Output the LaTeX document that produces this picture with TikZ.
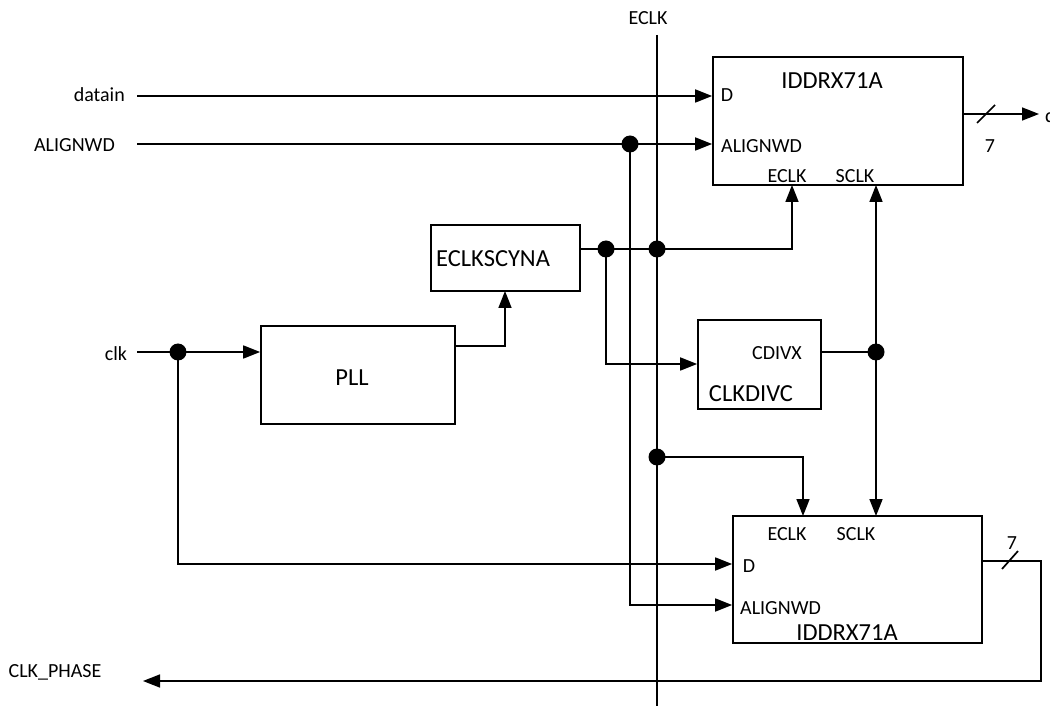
\documentclass[tikz,border=0pt]{standalone}
\usepackage{fontspec}
\setmainfont{Carlito}
\usetikzlibrary{arrows.meta}
\tikzset{
  wire/.style={line width=1.7pt},
  arr/.style={wire,-{Triangle[length=17pt,width=13pt]}},
  darr/.style={wire,{Triangle[length=17pt,width=13pt]}-{Triangle[length=17pt,width=13pt]}},
  blk/.style={draw,line width=1.7pt,minimum width=#1,inner sep=0},
  lab/.style={font=\fontsize{20}{22}\selectfont,inner sep=0},
  big/.style={font=\fontsize{24.5}{27}\selectfont,inner sep=0},
  dot/.style={circle,fill,inner sep=0,minimum size=17pt}
}
\begin{document}
\begin{tikzpicture}[x=1pt,y=-1pt]
\useasboundingbox (0,0) rectangle (1050,711);
% boxes
\node[blk=250pt,minimum height=128pt] (T) at (838,121) {};
\node[blk=249pt,minimum height=127pt] (B) at (857.5,579.5) {};
\node[blk=149pt,minimum height=66pt] (E) at (505.5,258) {};
\node[blk=123pt,minimum height=89pt] (C) at (759.5,364.5) {};
\node[blk=194pt,minimum height=98pt] (P) at (358,375) {};
% box texts
\node[big] (Tt) at (832,81) {IDDRX71A};
\node[lab] (TD) at (727,95) {D};
\node[lab,anchor=west] (TA) at (721,146) {ALIGNWD};
\node[lab] (TE) at (787,176) {ECLK};
\node[lab] (TS) at (855,176) {SCLK};
\node[big] (Bt) at (847,633) {IDDRX71A};
\node[lab] (BD) at (749,566) {D};
\node[lab,anchor=west] (BA) at (740,608) {ALIGNWD};
\node[lab] (BE) at (787,534) {ECLK};
\node[lab] (BS) at (856,534) {SCLK};
\node[big,anchor=west] (Et) at (436,259) {ECLKSCYNA};
\node[lab] (Cx) at (777,353) {CDIVX};
\node[big] (Ct) at (751,394) {CLKDIVC};
\node[big] (Pt) at (352,378) {PLL};
% outside labels
\node[lab,anchor=east] (ldatain) at (125,95) {datain};
\node[lab,anchor=east] (lalign) at (115,145) {ALIGNWD};
\node[lab] (lclk) at (116,354) {clk};
\node[lab] (lphase) at (55,672) {CLK\_PHASE};
\node[lab] (leclk) at (648,18) {ECLK};
\node[lab] (l7a) at (990,146) {7};
\node[lab] (l7b) at (1012,543) {7};
\node[lab,anchor=west] (lout) at (1045,116) {dataout};
% named points
\coordinate (sDatain) at (137,96);
\coordinate (sAlign) at (137,144);
\coordinate (sClk) at (137,352);
\coordinate (eTop) at (657,35);
\coordinate (eBot) at (657,706);
\coordinate (tOut) at (1039,114);
\coordinate (bCorner) at (1041,561);
\coordinate (phaseEnd) at (143,681);
% dots
\node[dot] (dA) at (630,144) {};
\node[dot] (dClk) at (178,352) {};
\node[dot] (dE1) at (606,249) {};
\node[dot] (dE2) at (657,249) {};
\node[dot] (dE3) at (657,457) {};
\node[dot] (dS) at (876,352) {};
% ECLK line
\draw[wire] (eTop) -- (eBot);
% inputs
\draw[arr] (sDatain) -- (sDatain -| T.west);
\draw[arr] (sAlign) -- (sAlign -| T.west);
\draw[arr] (dA.center) -- (dA.center |- 0,605) -- (B.west |- 0,605);
\draw[arr] (sClk) -- (sClk -| P.west);
\draw[arr] (dClk.center) -- (178,564) -- (B.west |- 0,564);
% PLL -> ECLKSCYNA
\draw[arr] (P.east |- 0,346) -- (505,346) -- (505,291);
% ECLKSCYNA -> top ECLK
\draw[arr] (E.east |- 0,249) -- (792,249) -- (792,185);
\draw[arr] (dE1.center) -- (606,364) -- (C.west |- 0,364);
% CDIVX -> SCLK
\draw[wire] (C.east |- 0,352) -- (dS.center);
\draw[darr] (876,185) -- (876,516);
% ECLK -> bottom ECLK
\draw[arr] (dE3.center) -- (803,457) -- (803,516);
% outputs
\draw[arr] (T.east |- 0,114) -- (tOut);
\draw[wire] (977,123) -- (995,105);
\draw[arr] (B.east |- 0,561) -- (bCorner) -- (1041,681) -- (phaseEnd);
\draw[wire] (1002,569) -- (1018,551);
\end{tikzpicture}
\end{document}
